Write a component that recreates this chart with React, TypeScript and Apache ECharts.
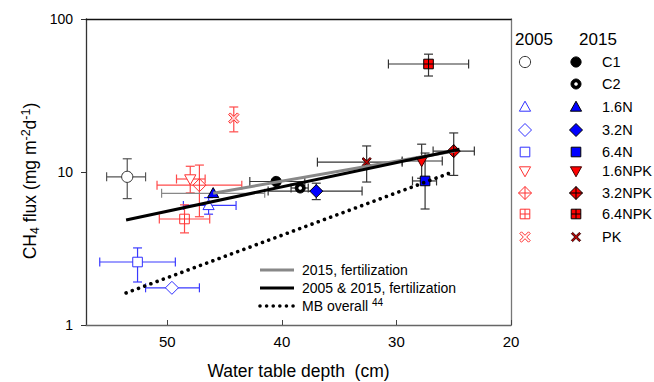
import React, { useEffect, useRef } from 'react';
import * as echarts from 'echarts';

const FONT = 'Liberation Sans, Arial, sans-serif';

const treatments = ['C1', 'C2', '1.6N', '3.2N', '6.4N', '1.6NPK', '3.2NPK', '6.4NPK', 'PK'];

// 2005 campaign (null = not measured)
const wtd2005 = [53.5, null, 46.4, 49.6, 52.6, 48.0, 47.2, 48.5, 44.2];
const wtd2005Deep = [55.3, null, 48.6, 51.9, 55.9, 49.2, 50.9, 50.7, 44.2];
const wtd2005Shallow = [51.9, null, 44.0, 47.2, 49.3, 46.7, 43.5, 46.3, 44.2];
const flux2005 = [9.3, null, 6.05, 1.75, 2.58, 9.0, 8.2, 4.93, 22.5];
const flux2005Lo = [6.7, null, 5.3, 1.75, 1.91, 7.3, 5.1, 4.0, 18.3];
const flux2005Hi = [12.2, null, 6.8, 1.75, 3.19, 10.9, 11.1, 6.1, 26.6];

// 2015 campaign
const wtd2015 = [40.5, 38.4, 46.0, 37.0, 27.5, 27.8, 25.0, 27.2, 32.6];
const wtd2015Deep = [42.8, 39.2, 50.5, 41.2, 28.6, 29.5, 26.8, 30.7, 36.9];
const wtd2015Shallow = [38.0, 37.7, 41.5, 33.0, 26.5, 26.0, 23.2, 23.7, 29.5];
const flux2015 = [8.67, 7.86, 7.25, 7.5, 8.74, 11.8, 13.7, 50.8, 11.6];
const flux2015Lo = [8.67, 7.86, 7.25, 6.6, 5.73, 9.1, 9.5, 42.4, 8.6];
const flux2015Hi = [8.67, 7.86, 7.25, 8.45, 13.3, 15.2, 18.0, 58.9, 14.8];

// Regression lines (end points)
const fit2015X = [46.0, 24.9];
const fit2015Y = [7.27, 13.7];
const fitAllX = [53.6, 24.5];
const fitAllY = [4.86, 14.1];
const mbX = [53.6, 25.1];
const mbY = [1.62, 10.0];

const xTicks = [20, 30, 40, 50];

const fitNames = ['2015, fertilization', '2005 & 2015, fertilization', 'MB overall {sup|44}'];

// marker styling per treatment
const kinds = ['circle', 'ring', 'tri', 'diamond', 'square', 'tridown', 'diamondx', 'gridsq', 'x'];
const open2005Stroke = ['#333333', '', '#3030ff', '#3030ff', '#3030ff', '#ff3030', '#ff3030', '#ff3030', '#ff3030'];
const err2005Color = ['#555555', '', '#3a3aff', '#3a3aff', '#3a3aff', '#ff4a4a', '#ff4a4a', '#ff4a4a', '#ff4a4a'];
const fill2015 = ['#000000', '#000000', '#0000ff', '#0000ff', '#0000ff', '#ff0000', '#ff0000', '#ff0000', '#c00000'];
const stroke2015 = ['#000000', '#000000', '#000000', '#000000', '#000000', '#400000', '#000000', '#000000', '#300000'];
const err2015Color = ['#333333', '#333333', '#888888', '#333333', '#333333', '#333333', '#333333', '#333333', '#333333'];

function marker(kind: string, cx: number, cy: number, fill: string, stroke: string, year: number): any[] {
  const st = { fill, stroke, lineWidth: 1 };
  const ln = (x1: number, y1: number, x2: number, y2: number) => ({
    type: 'line', shape: { x1, y1, x2, y2 }, style: { stroke, lineWidth: 1 },
  });
  const d = 6.5;
  const s = 4.8;
  switch (kind) {
    case 'circle':
      return [{ type: 'circle', shape: { cx, cy, r: year === 0 ? 5.6 : 5.1 }, style: st }];
    case 'ring':
      return [
        { type: 'circle', shape: { cx, cy, r: 5 }, style: { fill: '#000', stroke: '#000', lineWidth: 1 } },
        { type: 'circle', shape: { cx, cy, r: 1.8 }, style: { fill: '#fff', stroke: 'none' } },
      ];
    case 'tri':
      return [{ type: 'polygon', shape: { points: [[cx, cy - 5.8], [cx + 5.6, cy + 4.2], [cx - 5.6, cy + 4.2]] }, style: st }];
    case 'tridown':
      return [{ type: 'polygon', shape: { points: [[cx - 5.6, cy - 4.2], [cx + 5.6, cy - 4.2], [cx, cy + 5.8]] }, style: st }];
    case 'diamond':
      return [{ type: 'polygon', shape: { points: [[cx, cy - d], [cx + d, cy], [cx, cy + d], [cx - d, cy]] }, style: st }];
    case 'square':
      return [{ type: 'rect', shape: { x: cx - s, y: cy - s, width: 2 * s, height: 2 * s }, style: st }];
    case 'diamondx':
      return [
        { type: 'polygon', shape: { points: [[cx, cy - d], [cx + d, cy], [cx, cy + d], [cx - d, cy]] }, style: st },
        ln(cx, cy - d, cx, cy + d),
        ln(cx - d, cy, cx + d, cy),
      ];
    case 'gridsq':
      return [
        { type: 'rect', shape: { x: cx - s, y: cy - s, width: 2 * s, height: 2 * s }, style: st },
        ln(cx, cy - s, cx, cy + s),
        ln(cx - s, cy, cx + s, cy),
      ];
    case 'x': {
      const h = year === 0 ? 5.2 : 4.6;
      const w = year === 0 ? 1.7 : 1.3;
      const pts = [
        [cx - h, cy - h + w], [cx - h + w, cy - h], [cx, cy - w], [cx + h - w, cy - h], [cx + h, cy - h + w], [cx + w, cy],
        [cx + h, cy + h - w], [cx + h - w, cy + h], [cx, cy + w], [cx - h + w, cy + h], [cx - h, cy + h - w], [cx - w, cy],
      ];
      return [{ type: 'polygon', shape: { points: pts }, style: st }];
    }
  }
  return [];
}

type Pt = { year: number; i: number; v: number[] };
const pts: Pt[] = [];
treatments.forEach((_, i) => {
  if (wtd2005[i] != null) {
    pts.push({ year: 0, i, v: [wtd2005[i] as number, flux2005[i] as number, wtd2005Deep[i] as number, wtd2005Shallow[i] as number, flux2005Lo[i] as number, flux2005Hi[i] as number] });
  }
});
treatments.forEach((_, i) => {
  pts.push({ year: 1, i, v: [wtd2015[i], flux2015[i], wtd2015Deep[i], wtd2015Shallow[i], flux2015Lo[i], flux2015Hi[i]] });
});

function markerStyle(p: Pt) {
  if (p.year === 0) {
    const fill = p.i === 8 ? '#ffd6d6' : '#ffffff';
    return { fill, stroke: open2005Stroke[p.i] };
  }
  return { fill: fill2015[p.i], stroke: stroke2015[p.i] };
}

const legendRowsY = [62, 84, 107, 130, 152, 171, 193, 214, 237];
const fitLegendY = [270, 288, 306];
const fitStyles = [
  { stroke: '#888888', lineWidth: 3 },
  { stroke: '#000000', lineWidth: 3 },
  { stroke: '#000000', lineWidth: 3.6, lineDash: [0.01, 6.6], lineCap: 'round' },
];

export default function App() {
  const ref = useRef<HTMLDivElement>(null);
  useEffect(() => {
    if (!ref.current) return;
    const chart = echarts.init(ref.current, undefined, { renderer: 'svg' });

    const errSeries = {
      type: 'custom',
      z: 2,
      silent: true,
      clip: false,
      encode: { x: 0, y: 1 },
      data: pts.map((p) => p.v),
      renderItem: (params: any, api: any) => {
        const p = pts[params.dataIndex];
        const color = p.year === 0 ? err2005Color[p.i] : err2015Color[p.i];
        const a = api.coord([api.value(2), api.value(1)]);
        const b = api.coord([api.value(3), api.value(1)]);
        const lo = api.coord([api.value(0), api.value(4)]);
        const hi = api.coord([api.value(0), api.value(5)]);
        const cap = 4.5;
        const st = { stroke: color, lineWidth: 1.2 };
        const ch: any[] = [];
        const L = (x1: number, y1: number, x2: number, y2: number) => ch.push({ type: 'line', shape: { x1, y1, x2, y2 }, style: st });
        if (Math.abs(a[0] - b[0]) > 1) {
          L(a[0], a[1], b[0], b[1]);
          L(a[0], a[1] - cap, a[0], a[1] + cap);
          L(b[0], b[1] - cap, b[0], b[1] + cap);
        }
        if (Math.abs(lo[1] - hi[1]) > 1) {
          L(lo[0], lo[1], hi[0], hi[1]);
          L(lo[0] - cap, lo[1], lo[0] + cap, lo[1]);
          L(hi[0] - cap, hi[1], hi[0] + cap, hi[1]);
        }
        return { type: 'group', children: ch };
      },
    };

    const markerSeries = {
      type: 'custom',
      z: 3,
      silent: true,
      clip: false,
      encode: { x: 0, y: 1 },
      data: pts.map((p) => p.v),
      renderItem: (params: any, api: any) => {
        const p = pts[params.dataIndex];
        const c = api.coord([api.value(0), api.value(1)]);
        const ms = markerStyle(p);
        return { type: 'group', children: marker(kinds[p.i], c[0], c[1], ms.fill, ms.stroke, p.year) };
      },
    };

    const lineBase = { type: 'line', symbol: 'none', z: 4, silent: true };

    const graphic: any[] = [
      {
        type: 'text',
        x: 30,
        y: 181,
        rotation: Math.PI / 2,
        style: {
          text: 'CH{sub|4} flux (mg m{sup|-2}d{sup|-1})',
          fontSize: 17.5,
          fontFamily: FONT,
          fill: '#000',
          align: 'center',
          verticalAlign: 'middle',
          lineHeight: 22,
          rich: {
            sub: { fontSize: 12.5, fontFamily: FONT, verticalAlign: 'bottom', fill: '#000' },
            sup: { fontSize: 12.5, fontFamily: FONT, verticalAlign: 'top', fill: '#000' },
          },
        },
      },
      { type: 'text', x: 534, y: 39, style: { text: '2005', fontSize: 17, fontFamily: FONT, fill: '#000', align: 'center', verticalAlign: 'middle' } },
      { type: 'text', x: 598, y: 39, style: { text: '2015', fontSize: 17, fontFamily: FONT, fill: '#000', align: 'center', verticalAlign: 'middle' } },
    ];
    treatments.forEach((t, i) => {
      const y = legendRowsY[i];
      graphic.push({ type: 'text', x: 602, y, style: { text: t, fontSize: 14.5, fontFamily: FONT, fill: '#000', align: 'left', verticalAlign: 'middle' } });
      graphic.push({ type: 'group', children: marker(kinds[i], 576, y, fill2015[i], stroke2015[i], 1) });
      if (wtd2005[i] != null) {
        graphic.push({ type: 'group', children: marker(kinds[i], 525, y, '#ffffff', open2005Stroke[i], 0) });
      }
    });
    fitNames.forEach((n, k) => {
      const y = fitLegendY[k];
      graphic.push({ type: 'line', shape: { x1: 260, y1: y, x2: 294, y2: y }, style: fitStyles[k], z: 10 });
      graphic.push({
        type: 'text',
        x: 302,
        y,
        z: 10,
        style: {
          text: n,
          fontSize: 14,
          fontFamily: FONT,
          fill: '#000',
          align: 'left',
          verticalAlign: 'middle',
          lineHeight: 18,
          rich: { sup: { fontSize: 10, fontFamily: FONT, verticalAlign: 'top', fill: '#000' } },
        },
      });
    });

    chart.setOption({
      animation: false,
      backgroundColor: '#ffffff',
      textStyle: { fontFamily: FONT },
      grid: { left: 86, right: 143, top: 19, bottom: 57, outerBoundsMode: 'none' },
      xAxis: [
        {
          type: 'value',
          inverse: true,
          min: 20,
          max: 57.1,
          name: 'Water table depth \u00a0(cm)',
          nameLocation: 'middle',
          nameGap: 37,
          nameTextStyle: { fontSize: 17.5, fontFamily: FONT, color: '#000' },
          axisLine: { lineStyle: { color: '#666', width: 1.3 } },
          axisTick: { inside: true, length: 5, customValues: xTicks, lineStyle: { color: '#444' } },
          axisLabel: { customValues: xTicks, fontSize: 15, color: '#000', margin: 9, fontFamily: FONT },
          splitLine: { show: false },
        },
        {
          type: 'value',
          position: 'top',
          inverse: true,
          min: 20,
          max: 57.1,
          axisLine: { show: true, lineStyle: { color: '#111', width: 1.3 } },
          axisTick: { show: false },
          axisLabel: { show: false },
          splitLine: { show: false },
        },
      ],
      yAxis: [
        {
          type: 'log',
          logBase: 10,
          min: 1,
          max: 100,
          axisLine: { show: true, lineStyle: { color: '#333', width: 1.3 } },
          axisTick: { show: true, inside: false, length: 5, lineStyle: { color: '#333' } },
          axisLabel: { fontSize: 14, color: '#000', margin: 13, fontFamily: FONT },
          splitLine: { show: false },
          minorTick: { show: false },
        },
        {
          type: 'log',
          logBase: 10,
          min: 1,
          max: 100,
          position: 'right',
          axisLine: { show: true, lineStyle: { color: '#777', width: 1.3 } },
          axisTick: { show: false },
          axisLabel: { show: false },
          splitLine: { show: false },
        },
      ],
      graphic,
      series: [
        errSeries,
        markerSeries,
        {
          ...lineBase,
          name: '2015, fertilization',
          data: fit2015X.map((x, k) => [x, fit2015Y[k]]),
          lineStyle: { color: '#888888', width: 3 },
        },
        {
          ...lineBase,
          name: '2005 & 2015, fertilization',
          data: fitAllX.map((x, k) => [x, fitAllY[k]]),
          lineStyle: { color: '#000000', width: 3 },
        },
        {
          ...lineBase,
          name: 'MB overall',
          data: mbX.map((x, k) => [x, mbY[k]]),
          lineStyle: { color: '#000000', width: 3.6, type: [0.01, 6.6], cap: 'round' },
        },
      ],
    });
    return () => chart.dispose();
  }, []);
  return <div ref={ref} style={{ position: 'fixed', left: 0, top: 0, width: 654, height: 382 }} />;
}
